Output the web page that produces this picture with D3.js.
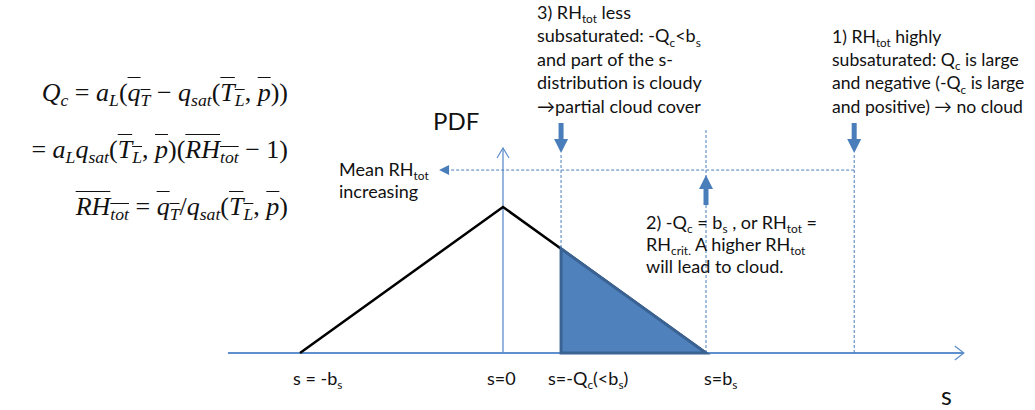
<!doctype html>
<html lang="en">
<head>
  <meta charset="utf-8">
  <title>Cloud PDF</title>
  <style>
    body { margin: 0; background: #fff; }
    #chart { position: relative; width: 1035px; height: 410px; }
    svg { position: absolute; left: 0; top: 0; }
    svg text { font-family: Lato, "Open Sans", sans-serif; fill: #111; }
    .eq {
      position: absolute;
      right: 747px;
      font-family: "Liberation Serif", "DejaVu Serif", serif;
      font-size: 26px;
      white-space: nowrap;
      color: #111;
      line-height: 1;
    }
    .eq i { font-style: italic; }
    .eq sub { font-size: 0.68em; vertical-align: -0.3em; line-height: 0; }
    .ov { text-decoration: overline; text-decoration-thickness: 1px; }
  </style>
</head>
<body>
  <div id="chart"></div>

  <script src="https://cdnjs.cloudflare.com/ajax/libs/d3/7.8.5/d3.min.js"></script>
  <script>
    // pdf of s (triangle)
    const sPts = [-1, 0, 1]
    const pdfVals = [0, 1, 0]

    // special s positions
    const minusQc = 0.286
    const bs = 1
    const case1S = 1.73
    const tickS = [-1, 0, minusQc, 1]
    const tickLabels = ['s = -b_{s}', 's=0', 's=-Q_{c}(<b_{s})', 's=b_{s}']
    const labelDx = [-7, -16, -13, -2]

    const block3 = ['3) RH_{tot} less', 'subsaturated: -Q_{c}<b_{s}', 'and part of the s-', 'distribution is cloudy', '\u2192partial cloud cover']
    const block1 = ['1) RH_{tot} highly', 'subsaturated: Q_{c} is large', 'and negative (-Q_{c} is large', 'and positive) \u2192 no cloud']
    const block2 = ['2) -Q_{c} = b_{s} , or RH_{tot} =', 'RH_{crit.} A higher RH_{tot}', 'will lead to cloud.']
    const meanText = ['Mean RH_{tot}', 'increasing']

    const blue = '#4a7ebb'
    const axisBlue = '#5f8fcc'

    const x = d3.scaleLinear().domain([-1, 1]).range([300, 706])
    const y = d3.scaleLinear().domain([0, 1]).range([353, 207])
    const pdf = d3.scaleLinear().domain(sPts).range(pdfVals)

    const chart = d3.select('#chart')
    const svg = chart.append('svg').attr('width', 1035).attr('height', 410)

    // text with _{sub} markup
    function rich(sel, str, size) {
      const parts = str.split(/(_\{[^}]*\})/).filter(function(d) { return d != '' })
      let shifted = false
      parts.forEach(function(p) {
        const t = sel.append('tspan')
        if (p.startsWith('_{')) {
          t.text(p.slice(2, -1)).attr('font-size', size * 0.66).attr('dy', shifted ? null : size * 0.24)
          shifted = true
        } else {
          t.text(p).attr('dy', shifted ? -size * 0.24 : null)
          shifted = false
        }
      })
    }

    function block(lines, x0, y0, lh, size) {
      lines.forEach(function(l, i) {
        const t = svg.append('text').attr('x', x0).attr('y', y0 + i * lh).attr('font-size', size)
        rich(t, l, size)
      })
    }

    // axes
    svg.append('line')
      .attr('x1', x(-1.355)).attr('x2', x(2.27))
      .attr('y1', y(0)).attr('y2', y(0))
      .attr('stroke', axisBlue).attr('stroke-width', 1.8)
    svg.append('path')
      .attr('d', 'M' + (x(2.27) - 9) + ',' + (y(0) - 7) + 'L' + x(2.27) + ',' + y(0) + 'L' + (x(2.27) - 9) + ',' + (y(0) + 7))
      .attr('fill', 'none').attr('stroke', axisBlue).attr('stroke-width', 1.3)
    svg.append('line')
      .attr('x1', x(0)).attr('x2', x(0))
      .attr('y1', y(0)).attr('y2', y(1.404))
      .attr('stroke', axisBlue).attr('stroke-width', 1.3)
    svg.append('path')
      .attr('d', 'M' + (x(0) - 6) + ',' + (y(1.404) + 10) + 'L' + x(0) + ',' + y(1.404) + 'L' + (x(0) + 6) + ',' + (y(1.404) + 10))
      .attr('fill', 'none').attr('stroke', axisBlue).attr('stroke-width', 1.2)

    // dashed guides
    const dashed = [
      [minusQc, 1.37],
      [bs, 1.527],
      [case1S, 1.37]
    ]
    svg.selectAll('line.guide').data(dashed).enter().append('line')
      .attr('class', 'guide')
      .attr('x1', function(d) { return x(d[0]) }).attr('x2', function(d) { return x(d[0]) })
      .attr('y1', y(0)).attr('y2', function(d) { return y(d[1]) })
      .attr('stroke', blue).attr('stroke-width', 1).attr('stroke-dasharray', '3,2')

    const hLevel = 1.253
    svg.append('line')
      .attr('x1', x(-0.28)).attr('x2', x(case1S))
      .attr('y1', y(hLevel)).attr('y2', y(hLevel))
      .attr('stroke', blue).attr('stroke-width', 1).attr('stroke-dasharray', '3,2')
    svg.append('path')
      .attr('d', 'M' + x(-0.315) + ',' + y(hLevel) + 'l10,-5l0,10z')
      .attr('fill', blue)

    // triangle pdf
    svg.append('path')
      .datum(sPts)
      .attr('d', d3.line().x(function(d) { return x(d) }).y(function(d) { return y(pdf(d)) }))
      .attr('fill', 'none').attr('stroke', '#000').attr('stroke-width', 2.5)

    // cloudy part
    const cloudy = [[minusQc, 0], [minusQc, pdf(minusQc)], [bs, pdf(bs)]]
    svg.append('path')
      .datum(cloudy)
      .attr('d', d3.line().x(function(d) { return x(d[0]) }).y(function(d) { return y(d[1]) }).curve(d3.curveLinearClosed))
      .attr('fill', '#4f81bd').attr('stroke', '#3a6394').attr('stroke-width', 3).attr('stroke-linejoin', 'miter')

    // thick arrows
    function thickArrow(cx, yStart, yTip, headLen) {
      const dir = yTip > yStart ? 1 : -1
      const hb = yTip - dir * headLen
      const d = 'M' + (cx - 2.5) + ',' + yStart + 'L' + (cx - 2.5) + ',' + hb + 'L' + (cx - 7) + ',' + hb +
        'L' + cx + ',' + yTip + 'L' + (cx + 7) + ',' + hb + 'L' + (cx + 2.5) + ',' + hb + 'L' + (cx + 2.5) + ',' + yStart + 'Z'
      svg.append('path').attr('d', d).attr('fill', blue)
    }
    thickArrow(x(minusQc), y(1.575), y(1.37), 14)
    thickArrow(x(case1S), y(1.575), y(1.37), 14)
    thickArrow(x(bs), y(1.014), y(1.219), 14)

    // texts
    block(block3, 537, 19, 23.4, 18)
    block(block1, 832, 43, 23.2, 17.6)
    block(block2, 646, 229, 22, 18)
    block(meanText, 339, 176, 22, 18)

    svg.append('text').attr('x', 433).attr('y', 130).attr('font-size', 24).text('PDF')
    svg.append('text').attr('x', 941).attr('y', 405).attr('font-size', 25).text('s')

    svg.selectAll('text.tick').data(tickS).enter().append('text')
      .attr('class', 'tick')
      .attr('x', function(d, i) { return x(d) + labelDx[i] })
      .attr('y', 385)
      .attr('font-size', 18)
      .each(function(d, i) { rich(d3.select(this), tickLabels[i], 18) })

    // equations
    const eqs = [
      '<i>Q</i><sub><i>c</i></sub> = <i>a</i><sub><i>L</i></sub>(<span class="ov"><i>q</i><sub><i>T</i></sub></span> \u2212 <i>q</i><sub><i>sat</i></sub>(<span class="ov"><i>T</i><sub><i>L</i></sub></span>, <span class="ov"><i>p</i></span>))',
      '= <i>a</i><sub><i>L</i></sub><i>q</i><sub><i>sat</i></sub>(<span class="ov"><i>T</i><sub><i>L</i></sub></span>, <span class="ov"><i>p</i></span>)(<span class="ov"><i>RH</i><sub><i>tot</i></sub></span> \u2212 1)',
      '<span class="ov"><i>RH</i><sub><i>tot</i></sub></span> = <span class="ov"><i>q</i><sub><i>T</i></sub></span>/<i>q</i><sub><i>sat</i></sub>(<span class="ov"><i>T</i><sub><i>L</i></sub></span>, <span class="ov"><i>p</i></span>)'
    ]
    chart.selectAll('div.eq').data(eqs).enter().append('div')
      .attr('class', 'eq')
      .style('top', function(d, i) { return (80 + i * 57) + 'px' })
      .html(function(d) { return d })
  </script>
</body>
</html>
